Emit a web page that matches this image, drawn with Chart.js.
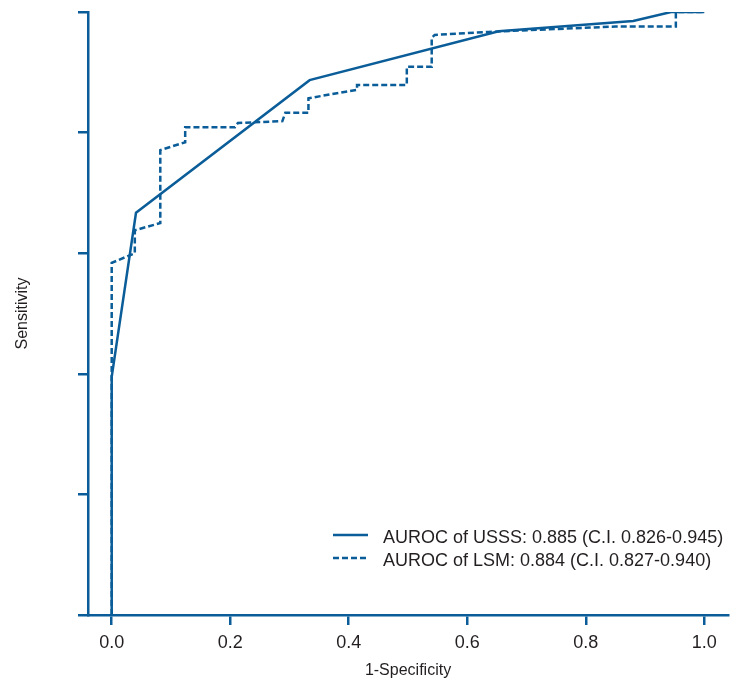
<!DOCTYPE html>
<html>
<head>
<meta charset="utf-8">
<script src="https://cdn.jsdelivr.net/npm/chart.js@4"></script>
<style>
  html, body { margin: 0; padding: 0; background: #fff; }
  #wrap { width: 738px; height: 688px; }
</style>
</head>
<body>
<div id="wrap"><canvas id="roc"></canvas></div>
<script>
// ROC curve data
const USSS_FPR = [0, 0, 0.041, 0.334, 0.653, 0.880, 0.944, 1.0];
const USSS_TPR = [0, 0.395, 0.667, 0.887, 0.968, 0.985, 1.0, 1.0];

const LSM_FPR = [0, 0, 0.039, 0.039, 0.082, 0.082, 0.124, 0.124, 0.208, 0.213, 0.288, 0.293, 0.332, 0.332, 0.414, 0.414, 0.498, 0.498, 0.540, 0.540, 0.545, 0.636, 0.754, 0.850, 0.952, 0.952, 1.0];
const LSM_TPR = [0, 0.584, 0.600, 0.638, 0.650, 0.771, 0.784, 0.809, 0.809, 0.816, 0.819, 0.833, 0.833, 0.857, 0.871, 0.879, 0.879, 0.909, 0.909, 0.957, 0.962, 0.967, 0.972, 0.976, 0.976, 1.0, 1.0];

const LABELS = ['AUROC of USSS: 0.885 (C.I. 0.826-0.945)', 'AUROC of LSM: 0.884 (C.I. 0.827-0.940)'];
const X_TICKS = [0, 0.2, 0.4, 0.6, 0.8, 1.0];
const Y_TICKS = [0, 0.2, 0.4, 0.6, 0.8, 1.0];

const BLUE = '#0a5d98';
const TEXT = '#231f20';
const FONT = 'Arial, "Liberation Sans", Helvetica, sans-serif';

const toPoints = (xs, ys) => xs.map((x, i) => ({ x: x, y: ys[i] }));

// legend drawn inside the plot, bottom right
const insideLegend = {
  id: 'insideLegend',
  afterDraw(chart) {
    const ctx = chart.ctx;
    const area = chart.chartArea;
    ctx.save();
    ctx.font = '18px ' + FONT;
    ctx.textBaseline = 'middle';
    chart.data.datasets.forEach((ds, i) => {
      const y = area.bottom - 80 + i * 23;
      const x0 = area.right - 395;
      ctx.strokeStyle = ds.borderColor;
      ctx.lineWidth = ds.borderWidth;
      ctx.setLineDash(ds.borderDash || []);
      ctx.beginPath();
      ctx.moveTo(x0, y);
      ctx.lineTo(x0 + 35, y);
      ctx.stroke();
      ctx.setLineDash([]);
      ctx.fillStyle = TEXT;
      ctx.fillText(ds.label, x0 + 50, y + 3);
    });
    ctx.restore();
  }
};

new Chart(document.getElementById('roc'), {
  type: 'line',
  data: {
    datasets: [
      {
        label: LABELS[0],
        data: toPoints(USSS_FPR, USSS_TPR),
        borderColor: BLUE,
        borderWidth: 2.5,
        pointRadius: 0,
        tension: 0,
        fill: false
      },
      {
        label: LABELS[1],
        data: toPoints(LSM_FPR, LSM_TPR),
        borderColor: BLUE,
        borderWidth: 2.5,
        borderDash: [6, 3],
        pointRadius: 0,
        tension: 0,
        fill: false
      }
    ]
  },
  options: {
    responsive: true,
    maintainAspectRatio: false,
    animation: false,
    layout: { padding: { top: 12, right: 10, bottom: 0, left: 0 } },
    plugins: {
      legend: { display: false },
      tooltip: { enabled: false }
    },
    scales: {
      x: {
        type: 'linear',
        min: -0.04,
        max: 1.04,
        afterBuildTicks: s => { s.ticks = X_TICKS.map(v => ({ value: v })); },
        afterFit: s => { s.height = 73; },
        border: { display: true, color: BLUE, width: 2.5 },
        grid: { drawOnChartArea: false, drawTicks: true, tickLength: 10, color: BLUE, lineWidth: 2.5 },
        ticks: {
          color: TEXT,
          padding: 7,
          font: { family: FONT, size: 18 },
          callback: v => v.toFixed(1)
        },
        title: {
          display: true,
          text: '1-Specificity',
          color: TEXT,
          font: { family: FONT, size: 16 },
          padding: { top: 0, bottom: 8 }
        }
      },
      y: {
        type: 'linear',
        min: 0,
        max: 1,
        afterBuildTicks: s => { s.ticks = Y_TICKS.map(v => ({ value: v })); },
        afterFit: s => { s.width = 88; },
        border: { display: true, color: BLUE, width: 2.5 },
        grid: { drawOnChartArea: false, drawTicks: true, tickLength: 10, color: BLUE, lineWidth: 2.5 },
        ticks: { display: false },
        title: {
          display: true,
          text: 'Sensitivity',
          color: TEXT,
          font: { family: FONT, size: 16 },
          padding: { top: 13, bottom: 0 }
        }
      }
    }
  },
  plugins: [insideLegend]
});
</script>
</body>
</html>
